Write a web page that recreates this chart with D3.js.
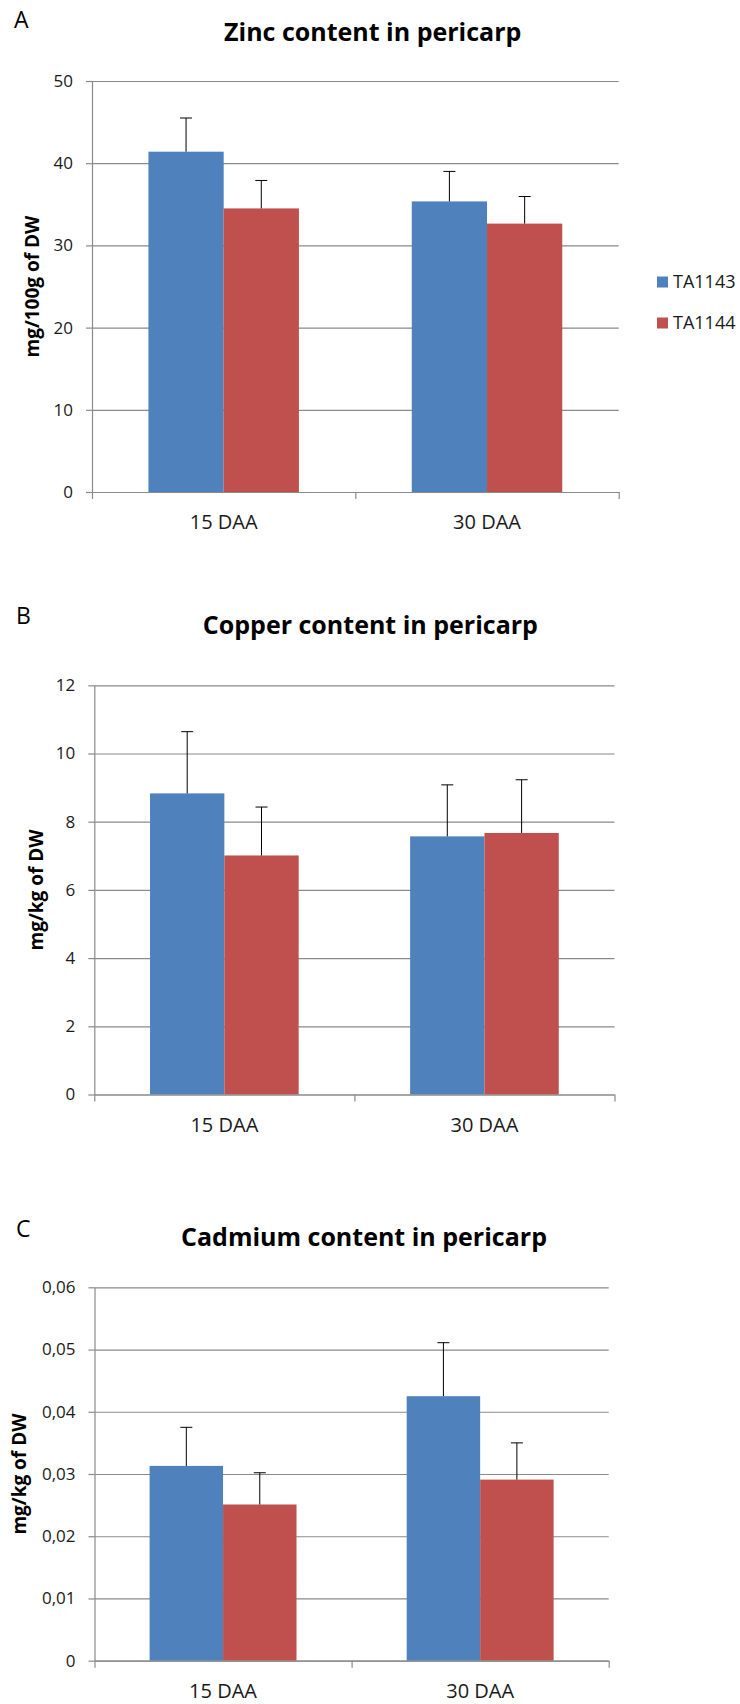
<!DOCTYPE html>
<html>
<head>
<meta charset="utf-8">
<script src="https://cdn.jsdelivr.net/npm/d3@7"></script>
<style>
  html, body { margin: 0; padding: 0; background: #ffffff; }
  svg { display: block; }
  text { font-family: "Open Sans", "Liberation Sans", sans-serif; }
</style>
</head>
<body>
<svg id="chart" width="740" height="1704"></svg>
<script>
// ---------- DATA ----------
const categories = ["15 DAA", "30 DAA"];
const seriesNames = ["TA1143", "TA1144"];

const zincTA1143 = [41.4, 35.35];
const zincTA1144 = [34.5, 32.65];
const zincErrTA1143 = [4.1, 3.65];
const zincErrTA1144 = [3.4, 3.3];
const zincTicks = [0, 10, 20, 30, 40, 50];

const copperTA1143 = [8.83, 7.57];
const copperTA1144 = [7.01, 7.67];
const copperErrTA1143 = [1.81, 1.51];
const copperErrTA1144 = [1.42, 1.56];
const copperTicks = [0, 2, 4, 6, 8, 10, 12];

const cadmiumTA1143 = [0.0313, 0.0425];
const cadmiumTA1144 = [0.0251, 0.0291];
const cadmiumErrTA1143 = [0.0062, 0.0086];
const cadmiumErrTA1144 = [0.0051, 0.0059];
const cadmiumTicks = [0, 0.01, 0.02, 0.03, 0.04, 0.05, 0.06];

const panelLetters = ["A", "B", "C"];
const panelTitles = ["Zinc content in pericarp", "Copper content in pericarp", "Cadmium content in pericarp"];
const yLabels = ["mg/100g of DW", "mg/kg of DW", "mg/kg of DW"];

// ---------- STYLE ----------
const colors = { TA1143: "#4F81BD", TA1144: "#C0504D" };
const gridColor = "#8a8a8a";
const textColor = "#1a1a1a";

// ---------- LAYOUT (positions only) ----------
const layouts = [
  { left: 92, right: 618.7, top: 81, bottom: 492, titleX: 372.7, titleY: 40.7, letterX: 14, letterY: 28.3, yLabelX: 39, legend: true },
  { left: 94.3, right: 614.5, top: 685.3, bottom: 1094.5, titleX: 370.4, titleY: 634, letterX: 16, letterY: 624, yLabelX: 42.5, legend: false },
  { left: 94.5, right: 608.7, top: 1287.3, bottom: 1660.7, titleX: 364, titleY: 1246, letterX: 16, letterY: 1236.7, yLabelX: 26, legend: false }
];

const fmtInt = d => String(d);
const fmtComma = d => d === 0 ? "0" : d3.format(".2f")(d).replace(".", ",");

const panels = [
  { values: [zincTA1143, zincTA1144], errors: [zincErrTA1143, zincErrTA1144], ticks: zincTicks, fmt: fmtInt },
  { values: [copperTA1143, copperTA1144], errors: [copperErrTA1143, copperErrTA1144], ticks: copperTicks, fmt: fmtInt },
  { values: [cadmiumTA1143, cadmiumTA1144], errors: [cadmiumErrTA1143, cadmiumErrTA1144], ticks: cadmiumTicks, fmt: fmtComma }
];

const svg = d3.select("#chart");
svg.append("rect").attr("width", 740).attr("height", 1704).attr("fill", "#fff");

panels.forEach((p, i) => {
  const L = layouts[i];
  const g = svg.append("g");

  const x0 = d3.scaleBand().domain(categories).range([L.left, L.right]).padding(0);
  const x1 = d3.scaleBand().domain(seriesNames).range([0, x0.bandwidth()]).paddingInner(0).paddingOuter(0.75);
  const y = d3.scaleLinear().domain([0, d3.max(p.ticks)]).range([L.bottom, L.top]);
  const bounds = d3.scaleLinear().domain([0, categories.length]).range([L.left, L.right]);

  // gridlines
  const grid = g.append("g")
    .attr("transform", `translate(${L.left},0)`)
    .call(d3.axisLeft(y).tickValues(p.ticks).tickSize(-(L.right - L.left)).tickFormat(""));
  grid.select(".domain").remove();
  grid.selectAll(".tick line").attr("stroke", gridColor).attr("stroke-width", 1.2);

  // bars
  const rows = [];
  categories.forEach((c, ci) => {
    seriesNames.forEach((s, si) => {
      rows.push({ cat: c, series: s, value: p.values[si][ci], err: p.errors[si][ci] });
    });
  });

  g.selectAll("rect.bar").data(rows).join("rect")
    .attr("class", "bar")
    .attr("x", d => x0(d.cat) + x1(d.series))
    .attr("width", x1.bandwidth())
    .attr("y", d => y(d.value))
    .attr("height", d => y(0) - y(d.value))
    .attr("fill", d => colors[d.series]);

  // error bars (positive only)
  const eb = g.selectAll("g.err").data(rows).join("g").attr("class", "err");
  eb.append("line")
    .attr("x1", d => x0(d.cat) + x1(d.series) + x1.bandwidth() / 2)
    .attr("x2", d => x0(d.cat) + x1(d.series) + x1.bandwidth() / 2)
    .attr("y1", d => y(d.value))
    .attr("y2", d => y(d.value + d.err))
    .attr("stroke", "#000").attr("stroke-width", 1);
  eb.append("line")
    .attr("x1", d => x0(d.cat) + x1(d.series) + x1.bandwidth() / 2 - 6)
    .attr("x2", d => x0(d.cat) + x1(d.series) + x1.bandwidth() / 2 + 6)
    .attr("y1", d => y(d.value + d.err))
    .attr("y2", d => y(d.value + d.err))
    .attr("stroke", "#000").attr("stroke-width", 1);

  // y axis with ticks and labels
  const yAxis = g.append("g")
    .attr("transform", `translate(${L.left},0)`)
    .call(d3.axisLeft(y).tickValues(p.ticks).tickSize(6).tickSizeOuter(0).tickPadding(13).tickFormat(p.fmt));
  yAxis.select(".domain").attr("stroke", gridColor).attr("stroke-width", 1.2);
  yAxis.selectAll(".tick line").attr("stroke", gridColor).attr("stroke-width", 1.2);
  yAxis.selectAll(".tick text").attr("fill", textColor).style("font-size", "17px");

  // x axis: baseline + boundary ticks
  const xTicks = g.append("g")
    .attr("transform", `translate(0,${L.bottom})`)
    .call(d3.axisBottom(bounds).tickValues(d3.range(categories.length + 1)).tickSize(7).tickSizeOuter(0).tickFormat(""));
  xTicks.select(".domain").attr("stroke", gridColor).attr("stroke-width", 1.2);
  xTicks.selectAll(".tick line").attr("stroke", gridColor).attr("stroke-width", 1.2);

  const xLabels = g.append("g")
    .attr("transform", `translate(0,${L.bottom})`)
    .call(d3.axisBottom(x0).tickSize(0).tickPadding(23));
  xLabels.select(".domain").remove();
  xLabels.selectAll(".tick text").attr("fill", textColor).style("font-size", "20px");

  // title
  g.append("text")
    .attr("x", L.titleX).attr("y", L.titleY)
    .attr("text-anchor", "middle")
    .style("font-size", "25px").style("font-weight", "bold")
    .attr("fill", "#000")
    .text(panelTitles[i]);

  // panel letter
  g.append("text")
    .attr("x", L.letterX).attr("y", L.letterY)
    .style("font-size", "23px")
    .attr("fill", "#000")
    .text(panelLetters[i]);

  // y label
  const cy = (L.top + L.bottom) / 2;
  g.append("text")
    .attr("transform", `translate(${L.yLabelX},${cy}) rotate(-90)`)
    .attr("text-anchor", "middle")
    .style("font-size", "19px").style("font-weight", "bold")
    .attr("fill", "#000")
    .text(yLabels[i]);

  // legend
  if (L.legend) {
    const leg = g.append("g").attr("transform", "translate(657,282)");
    const ly = d3.scalePoint().domain(seriesNames).range([0, 41]);
    const items = leg.selectAll("g").data(seriesNames).join("g")
      .attr("transform", d => `translate(0,${ly(d)})`);
    items.append("rect").attr("x", 0).attr("y", -5.5).attr("width", 11).attr("height", 11)
      .attr("fill", d => colors[d]);
    items.append("text").attr("x", 16).attr("y", 0).attr("dy", "0.36em")
      .style("font-size", "18px").attr("fill", textColor).text(d => d);
  }
});
</script>
</body>
</html>
